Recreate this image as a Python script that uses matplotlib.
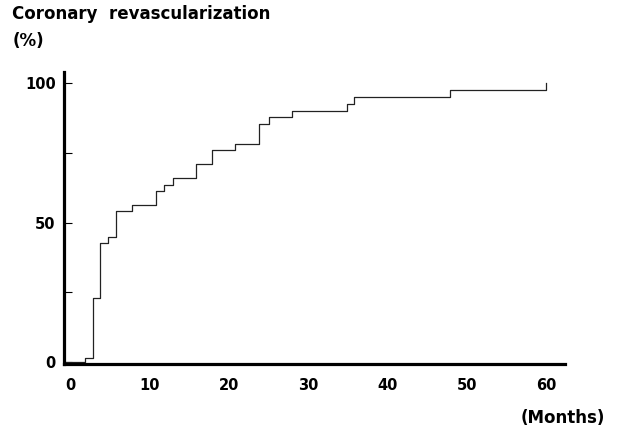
import matplotlib.pyplot as plt

plt.rcParams['font.family'] = ['DejaVu Sans']

# step times (months) and cumulative revascularization (%)
months = [-0.7, 1.8, 2.9, 3.7, 4.7, 5.8, 7.8, 10.8, 11.8, 12.9, 15.8, 17.9,
          20.8, 23.8, 25.0, 27.9, 34.9, 35.8, 47.9, 59.9]
percent = [0, 1.5, 23, 42.5, 44.7, 54, 56.4, 61.2, 63.5, 66, 70.9, 75.9,
           78.2, 85.5, 87.8, 90, 92.7, 95, 97.5, 100]
x_ticks = [0, 10, 20, 30, 40, 50, 60]
y_ticks = [0, 50, 100]
y_minor = [25, 75]

fig = plt.figure(figsize=(6.19, 4.34), dpi=100)
ax = fig.add_axes([0.1034, 0.161, 0.809, 0.673])

ax.step(months, percent, where='post', color='#222222', lw=0.9)

ax.set_xlim(-0.8, 62.3)
ax.set_ylim(-0.8, 104)

for side in ['top', 'right']:
    ax.spines[side].set_visible(False)
ax.spines['left'].set_linewidth(2.3)
ax.spines['bottom'].set_linewidth(2.3)

ax.set_xticks(x_ticks)
ax.set_yticks(y_ticks)
ax.set_yticks(y_minor, minor=True)
ax.tick_params(axis='x', length=0, pad=10, labelsize=10.5)
ax.tick_params(axis='y', which='both', direction='in', length=6, width=0.8,
               pad=6, labelsize=10.5)
for lbl in ax.get_xticklabels() + ax.get_yticklabels():
    lbl.set_fontweight('bold')

fig.text(12.5 / 619, 1 - 14 / 434, 'Coronary  revascularization', fontsize=12,
         fontweight='bold', ha='left', va='center')
fig.text(12.5 / 619, 1 - 41 / 434, '(%)', fontsize=12, fontweight='bold',
         ha='left', va='center')
fig.text(605 / 619, 1 - 418 / 434, '(Months)', fontsize=12, fontweight='bold',
         ha='right', va='center')

fig.savefig('out.png', dpi=100)
